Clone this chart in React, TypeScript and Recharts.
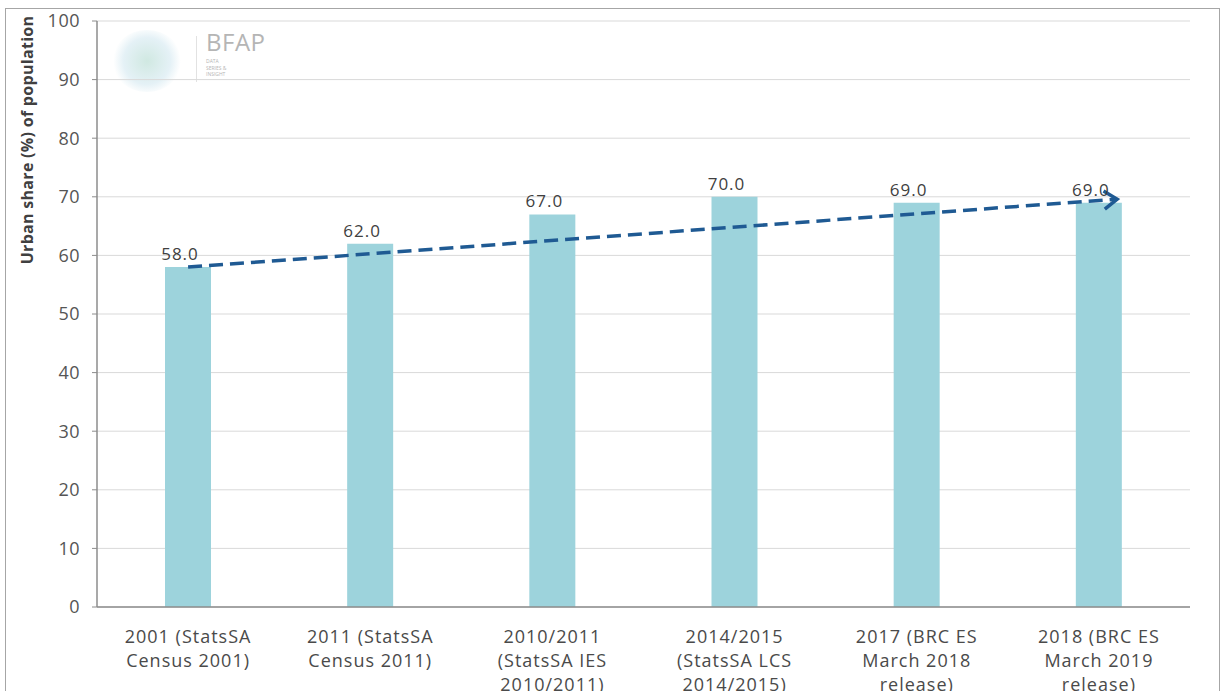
import React from "react";
import {
  ComposedChart,
  Bar,
  Line,
  XAxis,
  YAxis,
  CartesianGrid,
  LabelList,
} from "recharts";

// category labels, one entry per line of the tick
const categories: string[][] = [
  ["2001 (StatsSA", "Census 2001)"],
  ["2011 (StatsSA", "Census 2011)"],
  ["2010/2011", "(StatsSA IES", "2010/2011)"],
  ["2014/2015", "(StatsSA LCS", "2014/2015)"],
  ["2017 (BRC ES", "March 2018", "release)"],
  ["2018 (BRC ES", "March 2019", "release)"],
];
const urbanShare = [58.0, 62.0, 67.0, 70.0, 69.0, 69.0];
const yTicks = [0, 10, 20, 30, 40, 50, 60, 70, 80, 90, 100];

// trend arrow: position along the categories (0 = first bar) and value
const trendPos = [0, 5.1];
const trendValues = [58.0, 69.6];

const data = categories.map((lines, i) => ({
  name: lines.join(" "),
  value: urbanShare[i],
}));
const trendData = trendPos.map((t, i) => ({ t, v: trendValues[i] }));

const FONT = "'Open Sans', 'DejaVu Sans', sans-serif";
const TREND_COLOR = "#1f5a93";

const CategoryTick = (props: any) => {
  const { x, y, index } = props;
  const lines = categories[index] || [];
  return (
    <g transform={`translate(${x},${y})`}>
      {lines.map((l, i) => (
        <text
          key={i}
          x={0}
          y={28 + i * 24}
          textAnchor="middle"
          fill="#4a4a4a"
          fontSize={18}
          letterSpacing={1}
          fontFamily={FONT}
        >
          {l}
        </text>
      ))}
    </g>
  );
};

let firstPoint: { x: number; y: number } | null = null;

const ArrowDot = (props: any) => {
  const { cx, cy, index } = props;
  if (index === 0) {
    firstPoint = { x: cx, y: cy };
    return <g key={`d${index}`} />;
  }
  const fp = firstPoint || { x: cx - 100, y: cy };
  const ang = (Math.atan2(cy - fp.y, cx - fp.x) * 180) / Math.PI;
  return (
    <g key={`d${index}`} transform={`translate(${cx},${cy}) rotate(${ang})`}>
      <polyline
        points="-13,-9 0,0 -13,9"
        fill="none"
        stroke={TREND_COLOR}
        strokeWidth={3.5}
      />
    </g>
  );
};

const AxisTitle = (props: any) => {
  const vb = props.viewBox || { x: 0, y: 0 };
  const cx = 27;
  const cy = vb.y + 119;
  return (
    <text
      x={cx}
      y={cy}
      transform={`rotate(-90, ${cx}, ${cy})`}
      textAnchor="middle"
      dominantBaseline="central"
      fontSize={16}
      fontWeight="bold"
      letterSpacing={0.3}
      fill="#404040"
      fontFamily={FONT}
    >
      Urban share (%) of population
    </text>
  );
};

const BarValue = (props: any) => {
  const { x, y, width, value } = props;
  return (
    <text
      x={x + width / 2 - 8}
      y={y - 7}
      textAnchor="middle"
      fill="#404040"
      fontSize={17}
      letterSpacing={1}
      fontFamily={FONT}
    >
      {Number(value).toFixed(1)}
    </text>
  );
};

export default function App() {
  return (
    <div
      style={{
        position: "absolute",
        left: 0,
        top: 0,
        width: 1224,
        height: 691,
        background: "#fff",
        overflow: "hidden",
      }}
    >
      <div
        style={{
          position: "absolute",
          left: 5,
          top: 8,
          width: 1213,
          height: 700,
          border: "1.5px solid #a6a6a6",
        }}
      />
      {/* faint logo watermark */}
      <div
        style={{
          position: "absolute",
          left: 112,
          top: 30,
          width: 70,
          height: 62,
          borderRadius: "50%",
          background:
            "radial-gradient(circle, rgba(120,190,170,0.35) 0%, rgba(150,200,220,0.25) 50%, rgba(255,255,255,0) 72%)",
        }}
      />
      <div
        style={{
          position: "absolute",
          left: 196,
          top: 36,
          width: 1,
          height: 46,
          background: "#e2e2e2",
        }}
      />
      <div
        style={{
          position: "absolute",
          left: 206,
          top: 30,
          fontFamily: FONT,
          color: "#b5b5b5",
          lineHeight: 1,
        }}
      >
        <div style={{ fontSize: 24, letterSpacing: 0.5 }}>BFAP</div>
        <div style={{ fontSize: 5, marginTop: 4, lineHeight: 1.3 }}>
          DATA
          <br />
          SERIES &amp;
          <br />
          INSIGHT
        </div>
      </div>
      <div style={{ position: "absolute", left: 0, top: 0 }}>
        <ComposedChart
          width={1224}
          height={691}
          data={data}
          margin={{ top: 21, right: 34, bottom: 0, left: 0 }}
        >
          <CartesianGrid
            xAxisId="cat"
            vertical={false}
            stroke="#d9d9d9"
            strokeWidth={1}
          />
          <XAxis
            xAxisId="cat"
            dataKey="name"
            type="category"
            height={84}
            interval={0}
            tickLine={false}
            axisLine={{ stroke: "#8c8c8c", strokeWidth: 1.5 }}
            tick={<CategoryTick />}
          />
          <XAxis
            xAxisId="trend"
            dataKey="t"
            type="number"
            domain={[-0.5, 5.5]}
            allowDataOverflow
            hide
          />
          <YAxis
            domain={[0, 100]}
            ticks={yTicks}
            width={97}
            interval={0}
            tickSize={5}
            tickMargin={12}
            tickLine={{ stroke: "#8c8c8c" }}
            axisLine={{ stroke: "#8c8c8c", strokeWidth: 1.5 }}
            tick={{ fill: "#555", fontSize: 18, letterSpacing: 0.5, fontFamily: FONT }}
            label={<AxisTitle />}
          />
          <Bar
            xAxisId="cat"
            dataKey="value"
            fill="#9dd3dc"
            barSize={46}
            isAnimationActive={false}
          >
            <LabelList dataKey="value" content={<BarValue />} />
          </Bar>
          <Line
            xAxisId="trend"
            data={trendData}
            dataKey="v"
            type="linear"
            stroke={TREND_COLOR}
            strokeWidth={3.5}
            strokeDasharray="14 7"
            dot={<ArrowDot />}
            activeDot={false}
            isAnimationActive={false}
          />
        </ComposedChart>
      </div>
    </div>
  );
}
